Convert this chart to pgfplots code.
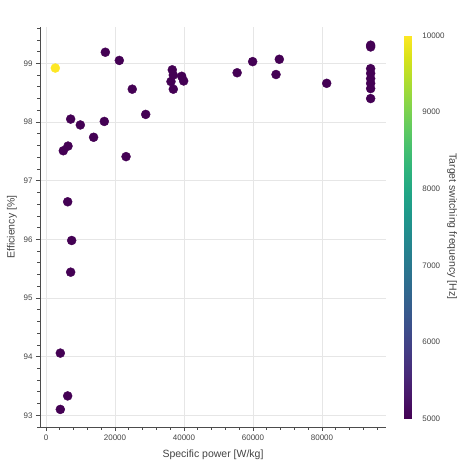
\documentclass[border=0pt]{standalone}
\usepackage{pgfplots}
\pgfplotsset{compat=1.18}
\usepackage{pgfplotstable}
\usepackage{fontspec}
\setmainfont{Liberation Sans}
\definecolor{txt}{HTML}{444444}
\definecolor{gridc}{HTML}{E6E6E6}
\pgfkeys{/pgf/number format/.cd,1000 sep={},assume math mode=true}
\pgfplotstableread{
x y f
2700 98.92 10000
17200 99.19 5000
21250 99.05 5000
36600 98.89 5000
36900 98.80 5000
36230 98.69 5000
36900 98.56 5000
39330 98.78 5000
39900 98.70 5000
55400 98.84 5000
59900 99.03 5000
66670 98.81 5000
67630 99.07 5000
81360 98.66 5000
94100 99.31 5000
94100 99.28 5000
94100 98.91 5000
94100 98.83 5000
94100 98.74 5000
94100 98.66 5000
94100 98.57 5000
94100 98.40 5000
25000 98.56 5000
28900 98.13 5000
7150 98.05 5000
9950 97.95 5000
16900 98.01 5000
13800 97.74 5000
6380 97.59 5000
5020 97.51 5000
23200 97.41 5000
6280 96.64 5000
7440 95.98 5000
7150 95.44 5000
4150 94.06 5000
6280 93.33 5000
4150 93.10 5000
}\datatable
\begin{document}
\begin{tikzpicture}
\path[use as bounding box] (0,0) rectangle (466pt,464pt);
\begin{axis}[
  at={(40pt,37pt)}, anchor=south west,
  scale only axis, width=346pt, height=400pt,
  xmin=-1740, xmax=98550, ymin=92.8, ymax=99.62,
  axis x line*=bottom, axis y line*=left,
  axis line style={-, draw=black!70, line width=0.8pt},
  xtick={0,20000,40000,60000,80000},
  minor xtick={4000,8000,...,96000},
  ytick={93,94,95,96,97,98,99},
  minor ytick={92.8,93,...,99.6},
  scaled x ticks=false,
  tick align=outside,
  major tick length=4pt, minor tick length=2.5pt,
  tick style={draw=black!70, line width=0.7pt},
  grid=major,
  major grid style={draw=gridc, line width=0.8pt},
  ticklabel style={font=\fontsize{8}{9}\selectfont, text=txt},
  xlabel={Specific power [W/kg]},
  ylabel={Efficiency [\%]},
  label style={font=\fontsize{10.5}{12}\selectfont, text=txt},
  xlabel style={at={(axis description cs:0.5,-0.07)}, anchor=center},
  ylabel style={at={(axis description cs:-0.081,0.5)}, anchor=center},
  colormap/viridis,
  point meta min=5000, point meta max=10000,
  colorbar,
  colorbar style={
    width=7.6pt, height=383pt,
    at={(parent axis.east)}, anchor=west, xshift=9.7pt,
    axis line style={draw=none},
    ytick={5000,6000,7000,8000,9000,10000},
    scaled y ticks=false,
    major tick length=0pt,
    yticklabel style={font=\fontsize{8}{9}\selectfont, text=txt, xshift=7pt, /pgf/number format/1000 sep={}},
  },
]
\addplot[scatter, only marks, mark=*, mark size=4.5pt,
  scatter src=explicit,
  scatter/use mapped color={draw=mapped color, fill=mapped color}]
  table[x=x, y=y, meta=f] {\datatable};
\end{axis}
\node[rotate=-90, font=\fontsize{10.5}{12}\selectfont, text=txt] at (452pt,237.5pt) {Target switching frequency [Hz]};
\end{tikzpicture}
\end{document}
